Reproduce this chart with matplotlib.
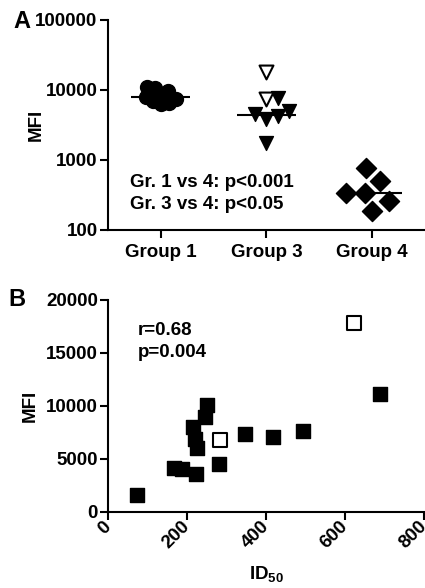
import matplotlib
matplotlib.use("Agg")
import matplotlib.pyplot as plt
import numpy as np

plt.rcParams['font.family'] = ['Liberation Sans', 'DejaVu Sans']
plt.rcParams['font.weight'] = 'bold'
plt.rcParams['mathtext.fontset'] = 'custom'
plt.rcParams['mathtext.rm'] = 'Liberation Sans:bold'
plt.rcParams['mathtext.bf'] = 'Liberation Sans:bold'

# ---- panel A data (MFI per group) ----
grupos = ['Group 1', 'Group 3', 'Group 4']
mfi_g1 = [6200, 6610, 6960, 7360, 7950, 8680, 9680, 10600, 11000]
mfi_g3 = [1770, 3900, 4200, 4500, 5000, 7600]
mfi_g3_abiertos = [7400, 18000]
mfi_g4 = [187, 259, 334, 334, 500, 778]
textos_a = ['Gr. 1 vs 4: p<0.001', 'Gr. 3 vs 4: p<0.05']

# ---- panel B data (ID50 vs MFI) ----
id50 = [72, 165, 186, 222, 214, 220, 224, 251, 245, 279, 346, 416, 492, 687]
mfi_b = [1600, 4100, 4000, 3560, 8030, 6900, 6000, 10080, 8980, 4470, 7340, 7020, 7620, 11090]
id50_abiertos = [283, 623]
mfi_b_abiertos = [6770, 17800]
textos_b = ['r=0.68', 'p=0.004']

LW = 1.5
FS = 13.5


def swarm(ax, xc, valores, diam):
    '''calcula posiciones x tipo beeswarm en pixeles y las devuelve en datos'''
    pts = ax.transData.transform([(xc, v) for v in valores])
    orden = np.argsort(pts[:, 1])
    colocados = []
    xs = np.zeros(len(valores))
    offsets = [0.0]
    for k in np.arange(0.5, 80, 0.5):
        offsets += [k, -k]
    for i in orden:
        px, py = pts[i]
        for off in offsets:
            ok = True
            for (qx, qy) in colocados:
                if np.hypot(px + off - qx, py - qy) < diam:
                    ok = False
                    break
            if ok:
                break
        colocados.append((px + off, py))
        xs[i] = ax.transData.inverted().transform((px + off, py))[0]
    return xs


def estilo(ax):
    ax.spines['top'].set_visible(False)
    ax.spines['right'].set_visible(False)
    ax.spines['left'].set_linewidth(LW)
    ax.spines['bottom'].set_linewidth(LW)
    ax.tick_params(width=LW, length=6, labelsize=FS, direction='out', pad=1.5)
    for lab in ax.get_xticklabels() + ax.get_yticklabels():
        lab.set_fontweight('bold')


fig = plt.figure(figsize=(4.25, 5.88), dpi=100)

# ================= A =================
axa = fig.add_axes([0.254, 0.609, 0.746, 0.357])
axa.set_yscale('log')
axa.set_ylim(100, 100000)
axa.set_xlim(-0.5, 2.5)
axa.set_xticks(range(len(grupos)))
axa.set_xticklabels(grupos)
axa.set_yticks([100, 1000, 10000, 100000])
axa.set_yticklabels(['100', '1000', '10000', '100000'])
axa.yaxis.set_minor_locator(matplotlib.ticker.NullLocator())
estilo(axa)
axa.tick_params(axis='x', pad=4)
axa.set_ylabel('MFI', fontsize=FS, fontweight='bold')
axa.yaxis.set_label_coords(-0.2, 0.5)

x1 = swarm(axa, 0, mfi_g1, 8)
axa.scatter(x1, mfi_g1, marker='o', s=100, color='black', zorder=3)

todos_g3 = mfi_g3 + mfi_g3_abiertos
x3 = swarm(axa, 1, todos_g3, 12)
n3 = len(mfi_g3)
axa.scatter(x3[:n3], mfi_g3, marker='v', s=100, color='black', zorder=3)
axa.scatter(x3[n3:], mfi_g3_abiertos, marker='v', s=100, facecolor='white',
            edgecolor='black', linewidth=1.5, zorder=3)

x4 = swarm(axa, 2, mfi_g4, 19)
axa.scatter(x4, mfi_g4, marker='D', s=105, color='black', zorder=3)

for i, vals in enumerate([mfi_g1, mfi_g3, mfi_g4]):
    axa.hlines(np.median(vals), i - 0.28, i + 0.28, color='black', lw=LW, zorder=2)

axa.text(0.069, 0.224, textos_a[0], transform=axa.transAxes, fontsize=FS,
         fontweight='bold', va='center')
axa.text(0.069, 0.119, textos_a[1], transform=axa.transAxes, fontsize=FS,
         fontweight='bold', va='center')
fig.text(22 / 425, 1 - 21 / 588, 'A', fontsize=17, fontweight='bold', ha='center', va='center')

# ================= B =================
axb = fig.add_axes([0.255, 0.1298, 0.743, 0.36])
axb.set_xlim(0, 800)
axb.set_ylim(0, 20000)
axb.set_xticks([0, 200, 400, 600, 800])
axb.set_yticks([0, 5000, 10000, 15000, 20000])
estilo(axb)
axb.tick_params(axis='x', pad=3)
plt.setp(axb.get_xticklabels(), rotation=45, ha='right', rotation_mode='anchor', va='center')
axb.scatter(id50, mfi_b, marker='s', s=115, color='black', zorder=3)
axb.scatter(id50_abiertos, mfi_b_abiertos, marker='s', s=115, facecolor='white',
            edgecolor='black', linewidth=1.5, zorder=3)
axb.set_ylabel('MFI', fontsize=FS, fontweight='bold')
axb.yaxis.set_label_coords(-0.22, 0.5)
axb.set_xlabel(r'ID$_{\mathrm{50}}$', fontsize=FS, fontweight='bold')
axb.xaxis.set_label_coords(0.502, -0.252)
axb.text(0.094, 0.858, textos_b[0], transform=axb.transAxes, fontsize=FS,
         fontweight='bold', va='center')
axb.text(0.094, 0.754, textos_b[1], transform=axb.transAxes, fontsize=FS,
         fontweight='bold', va='center')
fig.text(17 / 425, 1 - 299 / 588, 'B', fontsize=17, fontweight='bold', ha='center', va='center')

fig.savefig('out.png', dpi=100)
